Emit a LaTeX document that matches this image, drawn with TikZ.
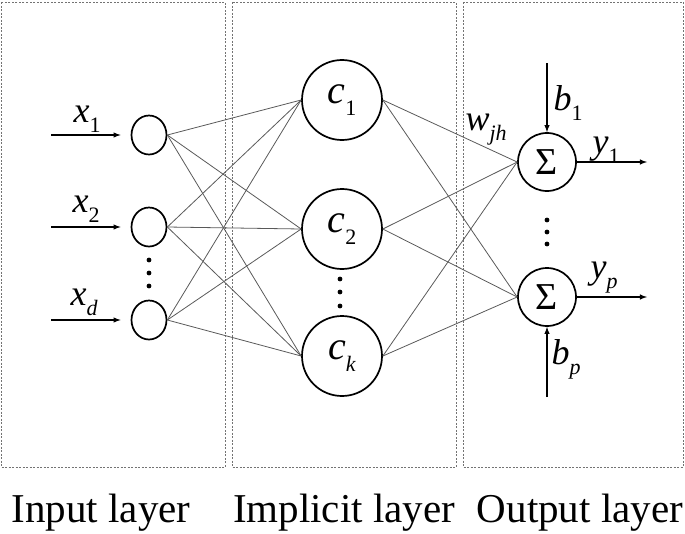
\documentclass[tikz,border=0pt]{standalone}
\usepackage{fontspec}
\setmainfont{Liberation Serif}
\usepackage{tikz}
\usetikzlibrary{arrows,positioning,shapes.geometric}

\newcommand{\var}[2]{\textit{#1}\raisebox{-0.3em}{\fontsize{22}{22}\selectfont #2}}

\begin{document}
\begin{tikzpicture}[x=1pt,y=-1pt,line width=.4mm,
    layerbox/.style={draw=black!55,line width=.3mm,dash pattern=on 2pt off 1.5pt},
    innode/.style={ellipse,draw,line width=.6mm,minimum width=35pt,minimum height=39pt,inner sep=0pt},
    hidnode/.style={circle,draw,line width=.6mm,minimum size=80pt,inner sep=0pt,font=\fontsize{40}{40}\selectfont},
    sumnode/.style={circle,draw,line width=.6mm,minimum size=58pt,inner sep=0pt,font=\fontsize{38}{38}\selectfont},
    wire/.style={draw=black!65,line width=.28mm},
    sig/.style={-latex,line width=.5mm},
    lbl/.style={inner sep=0pt,anchor=base west,font=\fontsize{36}{36}\selectfont},
    caption/.style={anchor=base,font=\fontsize{41}{41}\selectfont}]

      \useasboundingbox (0,0) rectangle (685,533);

      % layer boxes
      \draw[layerbox] (  1,2) rectangle (225,467);
      \draw[layerbox] (232,2) rectangle (456,467);
      \draw[layerbox] (463,2) rectangle (683,467);

      % neurons
      \node[innode] (in1) at (149,135) {};
      \node[innode] (in2) at (149,227) {};
      \node[innode] (ind) at (149,320) {};

      \node[hidnode] (c1) at (342,100) {\var{c}{1}};
      \node[hidnode] (c2) at (342,229) {\var{c}{2}};
      \node[hidnode] (ck) at (342,356) {\var{c}{\textit{k}}};

      \node[sumnode] (s1) at (547,162) {Σ};
      \node[sumnode] (sp) at (547,297) {Σ};

      % free ends of the signals
      \coordinate (a1) at ( 51,135);
      \coordinate (a2) at ( 51,227);
      \coordinate (ad) at ( 51,320);
      \coordinate (b1) at (547, 63);
      \coordinate (bp) at (547,397);
      \coordinate (y1) at (647,162);
      \coordinate (yp) at (647,297);

      % weights
      \draw[wire] (in1.east) -- (c1.west);
      \draw[wire] (in1.east) -- (c2.west);
      \draw[wire] (in1.east) -- (ck.west);
      \draw[wire] (in2.east) -- (c1.west);
      \draw[wire] (in2.east) -- (c2.west);
      \draw[wire] (in2.east) -- (ck.west);
      \draw[wire] (ind.east) -- (c1.west);
      \draw[wire] (ind.east) -- (c2.west);
      \draw[wire] (ind.east) -- (ck.west);

      \draw[wire] (c1.east) -- (s1.west);
      \draw[wire] (c1.east) -- (sp.west);
      \draw[wire] (c2.east) -- (s1.west);
      \draw[wire] (c2.east) -- (sp.west);
      \draw[wire] (ck.east) -- (s1.west);
      \draw[wire] (ck.east) -- (sp.west);

      % signals
      \draw[sig,shorten >=10pt] (a1) -- (in1);
      \draw[sig,shorten >=10pt] (a2) -- (in2);
      \draw[sig,shorten >=10pt] (ad) -- (ind);
      \draw[sig] (b1) -- (s1.north);
      \draw[sig] (bp) -- (sp.south);
      \draw[sig] (s1.east) -- (y1);
      \draw[sig] (sp.east) -- (yp);

      % dots
      \fill (149,260) circle (2.4);
      \fill (149,273) circle (2.4);
      \fill (149,286) circle (2.4);
      \fill (340,279) circle (2.4);
      \fill (340,292) circle (2.4);
      \fill (340,306) circle (2.4);
      \fill (547,220) circle (2.4);
      \fill (547,232) circle (2.4);
      \fill (547,244) circle (2.4);

      % labels
      \node[lbl] (lx1) at ( 73,122) {\var{x}{1}};
      \node[lbl] (lx2) at ( 72,212) {\var{x}{2}};
      \node[lbl] (lxd) at ( 70,305) {\var{x}{\textit{d}}};
      \node[lbl] (lw)  at (465,130) {\var{w}{\textit{jh}}};
      \node[lbl] (lb1) at (553,110) {\var{b}{1}};
      \node[lbl] (lbp) at (551,364) {\var{b}{\textit{p}}};
      \node[lbl] (ly1) at (592,153) {\var{y}{1}};
      \node[lbl] (lyp) at (590,278) {\var{y}{\textit{p}}};

      \node[caption] (tin)  at (101,522) {Input layer};
      \node[caption] (thid) at (344,522) {Implicit layer};
      \node[caption] (tout) at (580,522) {Output layer};

    \end{tikzpicture}
\end{document}
